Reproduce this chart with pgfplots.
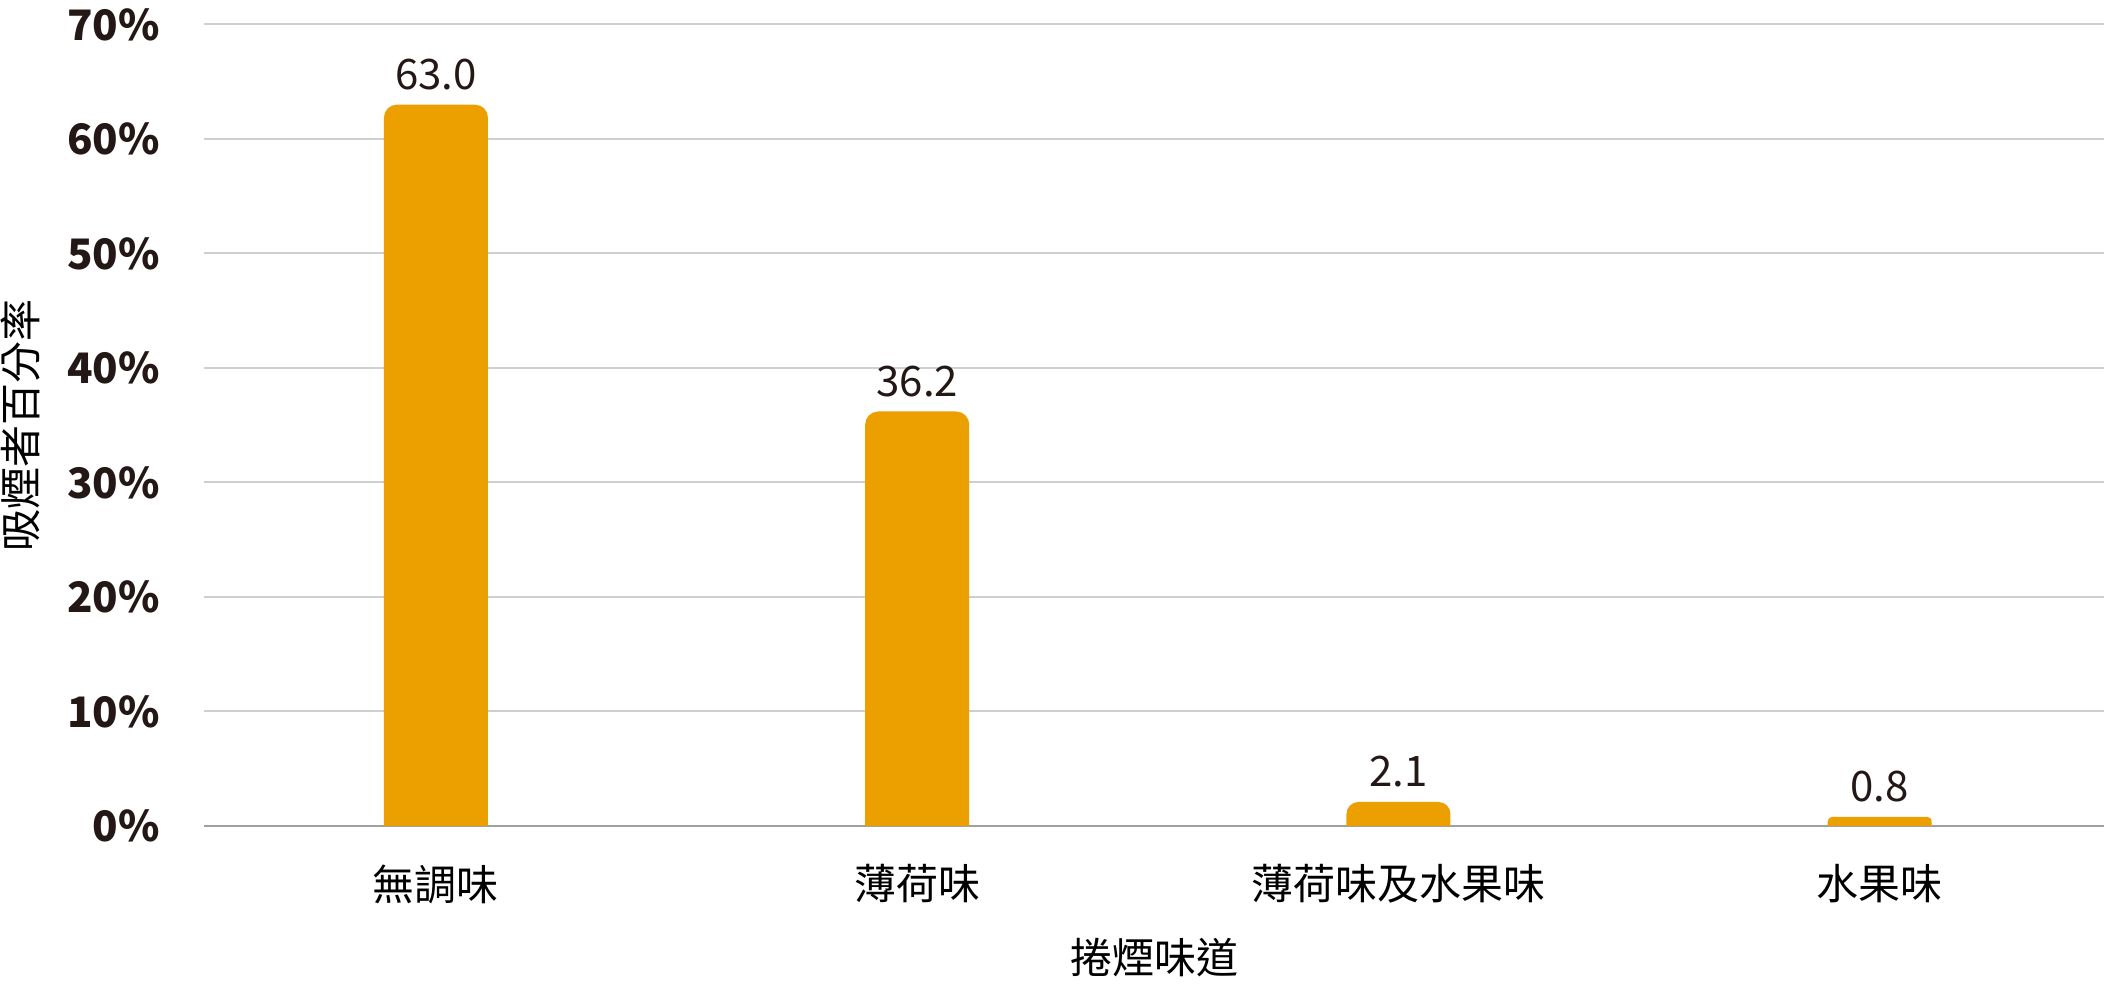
\documentclass[border=0pt]{standalone}
\usepackage{pgfplots}
\pgfplotsset{compat=1.18}
\usepackage{pgfplotstable}
\usepackage{fontspec}
\setmainfont{Noto Sans CJK TC}
\definecolor{barc}{HTML}{EBA000}
\definecolor{txt}{HTML}{231815}
\definecolor{gridc}{HTML}{CFCFCF}
\definecolor{basec}{HTML}{A0A0A0}
\pgfdeclareplotmark{rbar}{%
  \pgfmathsetmacro\hh{\rawy*5.725}%
  \pgfmathsetmacro\rr{min(6.5,\hh/2)}%
  \pgfmathsetmacro\xr{26-\rr}%
  \pgfpathmoveto{\pgfpoint{-26pt}{-\hh pt}}%
  \pgfpathlineto{\pgfpoint{-26pt}{-\rr pt}}%
  \pgfpatharc{180}{90}{\rr pt}%
  \pgfpathlineto{\pgfpoint{\xr pt}{0pt}}%
  \pgfpatharc{90}{0}{\rr pt}%
  \pgfpathlineto{\pgfpoint{26pt}{-\hh pt}}%
  \pgfpathclose
  \pgfsetfillcolor{barc}%
  \pgfusepathqfill
}
\pgfplotstableread{
x y
0 63.0
1 36.2
2 2.1
3 0.8
}\data
\begin{document}
\begin{tikzpicture}
\begin{axis}[
  scale only axis, width=950pt, height=400.75pt,
  xmin=-0.482, xmax=3.466, ymin=0, ymax=70,
  axis line style={draw=none},
  tick style={draw=none},
  xtick={0,1,2,3},
  xticklabels={無調味,薄荷味,薄荷味及水果味,水果味},
  ytick={0,10,...,70},
  yticklabels={0\%,10\%,20\%,30\%,40\%,50\%,60\%,70\%},
  ymajorgrids, grid style={color=gridc, line width=1pt},
  extra y ticks={0}, extra y tick labels={},
  extra y tick style={grid style={color=basec, line width=1pt}},
  yticklabel style={font=\bfseries\fontsize{21}{21}\selectfont, text=txt, anchor=east, inner sep=0pt, xshift=-22pt},
  xticklabel style={font=\fontsize{21}{21}\selectfont, text=black, anchor=center, inner sep=0pt, yshift=-29pt},
  xlabel={捲煙味道}, ylabel={吸煙者百分率},
  xlabel style={at={(axis description cs:0.5,-0.1647)}, anchor=center, inner sep=0pt, font=\fontsize{21}{21}\selectfont, text=black},
  ylabel style={at={(axis description cs:-0.0968,0.5)}, anchor=center, inner sep=0pt, font=\fontsize{21}{21}\selectfont, text=black},
]
\addplot[scatter, only marks, mark=rbar,
  scatter/use mapped color={draw=none, fill=barc},
  visualization depends on={rawy \as \rawy},
  nodes near coords={\pgfmathprintnumber[fixed, fixed zerofill, precision=1, assume math mode=true]{\rawy}},
  nodes near coords align={center},
  every node near coord/.append style={anchor=base, yshift=7.5pt, font=\fontsize{21}{21}\selectfont, text=txt, inner sep=0pt},
] table {\data};
\end{axis}
\path (current axis.south west) ++(-102pt,-83.5pt) coordinate (bl);
\path (current axis.north east) ++(3pt,12.25pt) coordinate (tr);
\path (bl) rectangle (tr);
\end{tikzpicture}
\end{document}
